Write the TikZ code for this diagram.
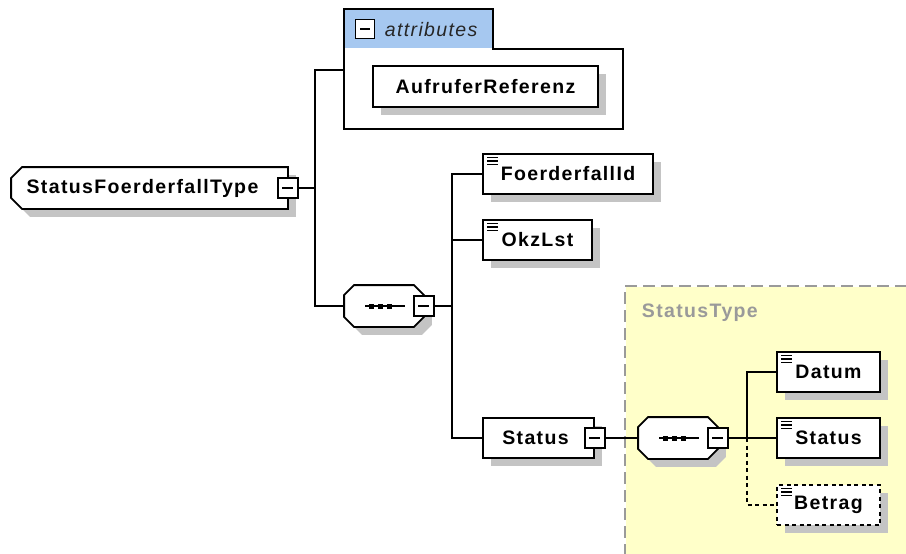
\documentclass[tikz,border=0pt]{standalone}
\usepackage{fontspec}
\newfontfamily\xsdfont{Liberation Sans}[LetterSpace=7]
\usetikzlibrary{shadows}
\definecolor{attrblue}{HTML}{A6C8F0}
\definecolor{typeyellow}{HTML}{FFFFC9}
\definecolor{typegray}{HTML}{9A9A9A}
\definecolor{shadowgray}{HTML}{C4C4C4}
\tikzset{
  xsdshadow/.style={drop shadow={shadow xshift=8pt, shadow yshift=-8pt, opacity=1, fill=shadowgray}},
  elem/.style={draw, fill=white, rectangle, minimum height=40pt, inner sep=0pt, xsdshadow},
  simple/.style={elem, path picture={
      \foreach \k in {3.5,7,10.5}
        \draw[solid, line width=1.2pt] ([xshift=4pt,yshift=-\k pt]path picture bounding box.north west) -- ++(11,0);}},
  optional/.style={dash pattern=on 4pt off 3.5pt},
  minusbox/.style={draw, fill=white, minimum size=20pt, inner sep=0pt, path picture={
      \draw[line width=1.4pt] ([xshift=4.5pt]path picture bounding box.west) -- ([xshift=-4.5pt]path picture bounding box.east);}},
  frame/.style={rectangle, minimum height=40pt, inner sep=0pt},
}

\begin{document}
\begin{tikzpicture}[x=1pt, y=-1pt, line width=1.8pt,
  font=\xsdfont\bfseries\fontsize{19.5}{22}\selectfont]
  \useasboundingbox (0,0) rectangle (906,554);
  % type region of Status
  \node[fill=typeyellow, anchor=north west, minimum width=281pt, minimum height=268pt, inner sep=0pt] (typebox) at (625,286) {};
  \draw[typegray, dash pattern=on 12pt off 6pt] (typebox.south west) |- (typebox.north east);
  \node[anchor=west, inner sep=0pt, text=typegray] (stype) at (641,313) {StatusType};

  % complex type, chamfered on the left
  \node[frame, minimum width=275pt] (root) at (149.5,188) {};
  \draw[fill=white, xsdshadow] ([xshift=11pt]root.north west) -- (root.north east) -- (root.south east)
    -- ([xshift=11pt]root.south west) -- ([yshift=11pt]root.south west) -- ([yshift=-11pt]root.north west) -- cycle;
  \node (roottext) at ([xshift=-7pt]root.center) {StatusFoerderfallType};
  \node[minusbox] (rootm) at (root.east) {};

  % attributes
  \node[fill=attrblue, minimum width=147pt, minimum height=38pt, inner sep=0pt] (attrtab) at (418.5,29) {};
  \node[fill=white, minimum width=277pt, minimum height=80pt, inner sep=0pt] (attrbox) at (483.5,88) {};
  \draw (attrtab.south east) |- (attrtab.north west) |- (attrbox.south east) |- (attrtab.south east) -- cycle;
  \node[minusbox, minimum size=19pt] (attrm) at (365,29) {};
  \node[anchor=west, inner sep=0pt, font=\xsdfont\itshape\fontsize{19.5}{22}\selectfont, text=black!85] (attrlabel) at (384,30) {attributes};
  \node[elem, minimum width=225pt, minimum height=41pt] (aufrufer) at (485.5,86.5) {AufruferReferenz};

  % sequences
  \node[frame, minimum width=78pt] (seq) at (384,306) {};
  \node[frame, minimum width=78pt] (seq2) at (678,438) {};
  \foreach \n in {seq,seq2} {
    \draw[fill=white, xsdshadow] ([xshift=10pt]\n.north west) -- ([xshift=-10pt]\n.north east) -- ([yshift=-10pt]\n.north east)
      -- ([yshift=10pt]\n.south east) -- ([xshift=-10pt]\n.south east) -- ([xshift=10pt]\n.south west)
      -- ([yshift=10pt]\n.south west) -- ([yshift=-10pt]\n.north west) -- cycle;
    \draw[line width=1.4pt] ([xshift=-19pt]\n.center) -- ([xshift=21pt]\n.center);
    \foreach \d in {-13,-4,5}
      \fill ([xshift=\d pt]\n.center) +(-2.5,-2.5) rectangle +(2.5,2.5);
  }
  \node[minusbox] (seqm) at (seq.east) {};
  \node[minusbox] (seq2m) at (seq2.east) {};

  \node[simple, minimum width=170pt] (foerder) at (568,174) {FoerderfallId};
  \node[simple, minimum width=109pt] (okz) at (537.5,240) {OkzLst};
  \node[elem, minimum width=111pt] (status) at (538.5,438) {Status\hspace*{6pt}};
  \node[minusbox] (statusm) at (status.east) {};

  \node[simple, minimum width=103pt] (datum) at (828.5,372) {Datum};
  \node[simple, minimum width=103pt] (status2) at (828.5,438) {Status};
  \node[simple, optional, minimum width=103pt] (betrag) at (828.5,505) {Betrag};

  % connectors
  \coordinate (t1) at (315,70);
  \draw (t1 -| attrbox.west) -- (t1) |- (seq.west);
  \draw (rootm.east) -- (rootm.east -| t1);
  \path (foerder.west) ++(-30,0) coordinate (t2);
  \draw (foerder.west) -- (t2) |- (status.west);
  \draw (okz.west) -- (okz.west -| t2);
  \draw (seqm.east) -- (seqm.east -| t2);
  \draw (statusm.east) -- (seq2.west);
  \path (datum.west) ++(-29,0) coordinate (t3);
  \draw (datum.west) -- (t3) |- (status2.west);
  \draw (seq2m.east) -- (seq2m.east -| t3);
  \draw[optional] (status2.west -| t3) |- (betrag.west);
\end{tikzpicture}
\end{document}
